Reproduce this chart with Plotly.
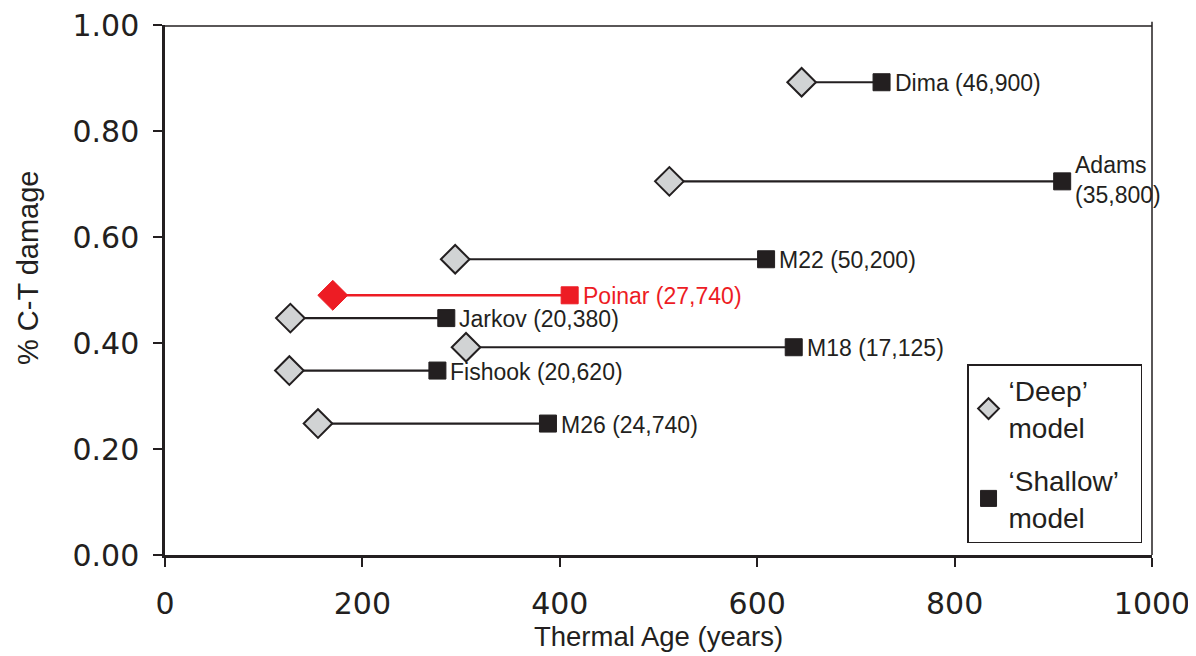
import plotly.graph_objects as go

samples = ["Dima", "Adams", "M22", "Poinar", "Jarkov", "M18", "Fishook", "M26"]
labels = ["Dima (46,900)", "Adams<br>(35,800)", "M22 (50,200)", "Poinar (27,740)",
          "Jarkov (20,380)", "M18 (17,125)", "Fishook (20,620)", "M26 (24,740)"]
deep_age = [645, 511, 294, 170, 127, 305, 126, 155]
shallow_age = [726, 909, 609, 410, 285, 637, 276, 388]
damage = [0.892, 0.705, 0.558, 0.490, 0.447, 0.392, 0.348, 0.248]
highlight = "Poinar"

x_ticks = [0, 200, 400, 600, 800, 1000]
y_ticks = [0.0, 0.2, 0.4, 0.6, 0.8, 1.0]

DARK = "#231f20"
GREY = "#d1d3d4"
RED = "#ed1c24"
TXT = "Liberation Sans"

fig = go.Figure()

# connecting lines
for s, d, sh, v in zip(samples, deep_age, shallow_age, damage):
    col = RED if s == highlight else DARK
    fig.add_trace(go.Scatter(x=[d, sh], y=[v, v], mode="lines",
                             line=dict(color=col, width=2.2 if s != highlight else 2.5),
                             showlegend=False, hoverinfo="skip"))

idx_n = [i for i, s in enumerate(samples) if s != highlight]
idx_h = [i for i, s in enumerate(samples) if s == highlight]

fig.add_trace(go.Scatter(
    x=[deep_age[i] for i in idx_n], y=[damage[i] for i in idx_n], mode="markers",
    marker=dict(symbol="diamond", size=22, color=GREY, line=dict(color=DARK, width=2)),
    name="\u2018Deep\u2019<br>model", legendgroup="deep"))
fig.add_trace(go.Scatter(
    x=[shallow_age[i] for i in idx_n], y=[damage[i] for i in idx_n], mode="markers",
    marker=dict(symbol="square", size=17, color=DARK, line=dict(color=DARK, width=1)),
    name="\u2018Shallow\u2019&nbsp;&nbsp;<br>model", legendgroup="shallow"))
fig.add_trace(go.Scatter(
    x=[deep_age[i] for i in idx_h], y=[damage[i] for i in idx_h], mode="markers",
    marker=dict(symbol="diamond", size=23, color=RED, line=dict(color=RED, width=1)),
    showlegend=False))
fig.add_trace(go.Scatter(
    x=[shallow_age[i] for i in idx_h], y=[damage[i] for i in idx_h], mode="markers",
    marker=dict(symbol="square", size=17, color=RED, line=dict(color=RED, width=1)),
    showlegend=False))

for s, lab, sh, v in zip(samples, labels, shallow_age, damage):
    fig.add_annotation(x=sh, y=v, text=lab, showarrow=False, xanchor="left",
                       yanchor="middle", xshift=11, yshift=-1 if "<br>" not in lab else 1,
                       align="left",
                       font=dict(family=TXT, size=23,
                                 color=RED if s == highlight else DARK))

# y-axis title (placed as in the reference, slightly above centre)
fig.add_annotation(xref="paper", yref="paper", x=0, y=0.5415, xshift=-137,
                   text="% C-T damage", textangle=-90, showarrow=False,
                   xanchor="center", yanchor="middle",
                   font=dict(family=TXT, size=29, color=DARK))

# frame top and right
fig.add_shape(type="line", xref="paper", yref="paper", x0=0, x1=1.0, y0=0.998, y1=0.998,
              line=dict(color=DARK, width=1.5), layer="above")
fig.add_shape(type="line", xref="paper", yref="paper", x0=1, x1=1, y0=0, y1=1.006,
              line=dict(color=DARK, width=1.5), layer="above")

fig.update_layout(
    width=1196, height=656,
    margin=dict(l=157, r=52, t=17, b=109),
    paper_bgcolor="white", plot_bgcolor="white",
    showlegend=True,
    legend=dict(x=0.8126, y=0.36, xanchor="left", yanchor="top",
                bordercolor=DARK, borderwidth=1.5, bgcolor="white",
                font=dict(family=TXT, size=28, color=DARK),
                valign="middle", tracegroupgap=14, itemwidth=30),
    xaxis=dict(range=[0, 1000], tickvals=x_ticks, ticktext=[str(v) for v in x_ticks],
               showline=True, linecolor=DARK, linewidth=2.5, ticks="outside",
               ticklen=9, tickwidth=1.5, tickcolor=DARK, showgrid=False, zeroline=False,
               automargin=False, ticklabelstandoff=11, ticklabeloverflow="allow",
               tickfont=dict(family="DejaVu Sans", size=30, color=DARK),
               title=dict(text="Thermal Age (years)", standoff=4,
                          font=dict(family=TXT, size=27.5, color=DARK))),
    yaxis=dict(range=[0, 1], tickvals=y_ticks, tickformat=".2f",
               showline=True, linecolor=DARK, linewidth=2.5, ticks="outside",
               ticklen=9, tickwidth=1.5, tickcolor=DARK, showgrid=False, zeroline=False,
               automargin=False, ticklabelstandoff=8, ticklabeloverflow="allow",
               tickfont=dict(family="DejaVu Sans", size=30, color=DARK)),
)

fig.write_html("out.html")
